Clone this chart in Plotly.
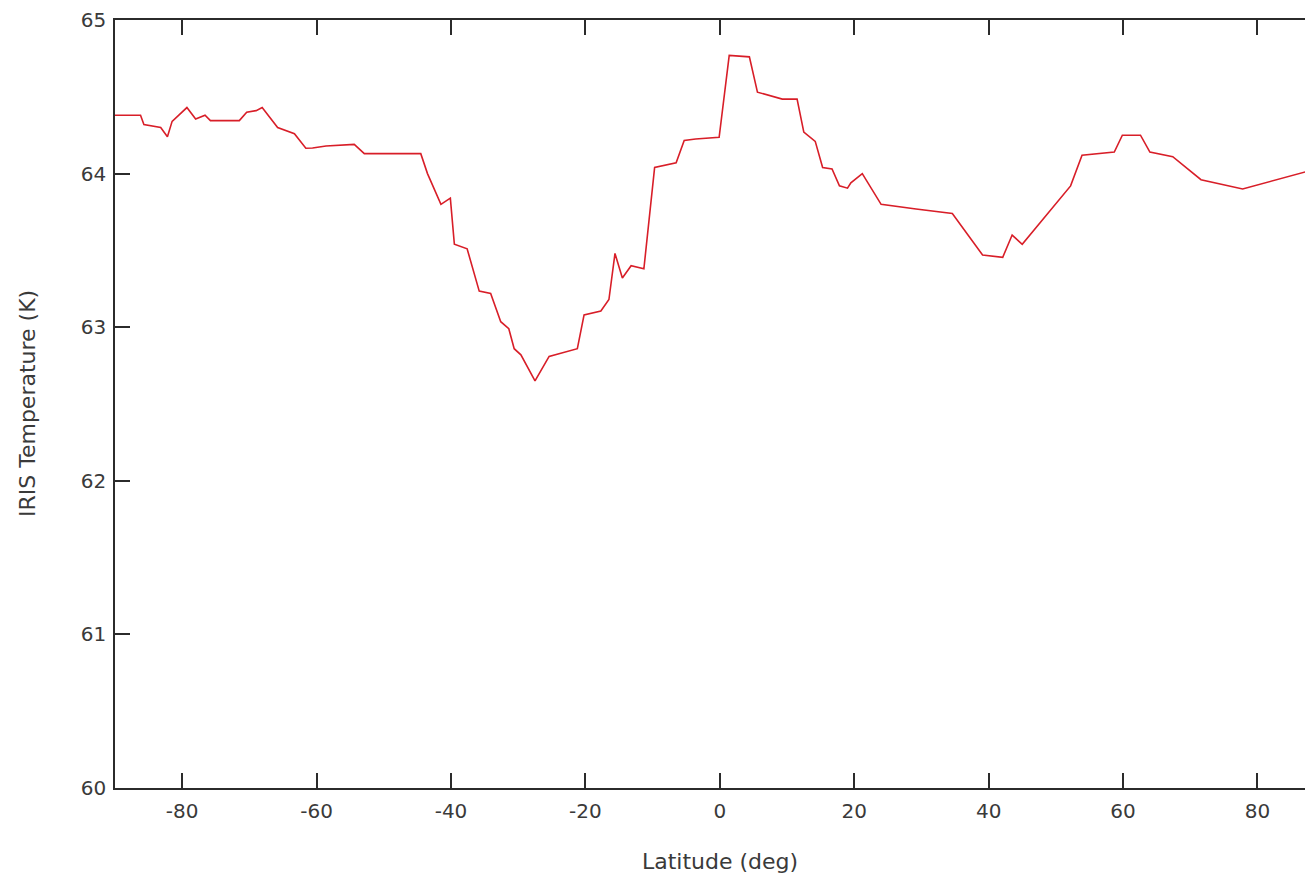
import plotly.graph_objects as go

latitude = [-90, -86.2, -85.7, -83.2, -82.2, -81.5, -79.3, -78.0, -76.6, -75.8,
            -71.5, -70.4, -69.0, -68.1, -65.8, -63.3, -61.6, -60.6, -58.6, -54.4,
            -52.9, -44.5, -43.5, -41.5, -40.1, -39.5, -37.6, -35.8, -34.1, -32.6,
            -31.4, -30.6, -29.6, -27.5, -25.4, -21.2, -20.2, -17.7, -16.5, -15.6,
            -14.5, -13.2, -11.3, -9.7, -6.5, -5.3, -3.6, -0.1, 1.4, 4.4,
            5.6, 9.3, 11.5, 12.5, 14.2, 15.3, 16.7, 17.8, 19.0, 19.5,
            21.2, 24.0, 29.2, 34.6, 39.1, 42.1, 43.5, 45.0, 52.2, 53.9,
            58.7, 59.9, 62.6, 64.0, 67.4, 71.6, 77.8, 87.9, 90.0]
temperature = [64.38, 64.38, 64.32, 64.30, 64.24, 64.34, 64.43, 64.355, 64.38, 64.345,
               64.345, 64.40, 64.41, 64.43, 64.30, 64.26, 64.165, 64.167, 64.18, 64.19,
               64.13, 64.13, 64.00, 63.80, 63.84, 63.54, 63.51, 63.235, 63.22, 63.036,
               62.99, 62.86, 62.82, 62.65, 62.81, 62.86, 63.08, 63.105, 63.18, 63.48,
               63.32, 63.40, 63.38, 64.04, 64.07, 64.215, 64.225, 64.236, 64.77, 64.76,
               64.53, 64.485, 64.485, 64.27, 64.21, 64.04, 64.03, 63.92, 63.905, 63.94,
               64.00, 63.80, 63.77, 63.74, 63.47, 63.455, 63.60, 63.54, 63.92, 64.12,
               64.14, 64.25, 64.25, 64.14, 64.11, 63.96, 63.90, 64.02, 64.03]

x_ticks = [-80, -60, -40, -20, 0, 20, 40, 60, 80]
x_tick_labels = ["-80", "-60", "-40", "-20", "0", "20", "40", "60", "80"]
y_ticks = [60, 61, 62, 63, 64, 65]
y_tick_labels = ["60", "61", "62", "63", "64", "65"]

axis_color = "#2b2b2b"
text_color = "#3a3a3a"
font_family = "DejaVu Sans"

fig = go.Figure()
fig.add_trace(go.Scatter(x=latitude, y=temperature, mode="lines",
                         line=dict(color="#d81e28", width=1.6),
                         showlegend=False, hoverinfo="skip"))

fig.update_layout(
    width=1305, height=869,
    margin=dict(l=107, r=0, t=9, b=89),
    paper_bgcolor="white", plot_bgcolor="white",
    font=dict(family=font_family, color=text_color, size=20),
    xaxis=dict(range=[-90, 88.27], tickmode="array", tickvals=x_ticks,
               ticktext=x_tick_labels, ticks="inside", ticklen=15, tickwidth=1.5,
               tickcolor=axis_color, showline=True, linecolor=axis_color, linewidth=1.5,
               mirror="ticks", showgrid=False, zeroline=False,
               tickfont=dict(family=font_family, size=20, color=text_color),
               ticklabelstandoff=4, ticklabeloverflow="allow"),
    yaxis=dict(range=[60, 65], tickmode="array", tickvals=y_ticks,
               ticktext=y_tick_labels, ticks="inside", ticklen=15, tickwidth=1.5,
               tickcolor=axis_color, showline=True,
               linecolor=axis_color, linewidth=1.5,
               mirror=False, showgrid=False, zeroline=False,
               tickfont=dict(family=font_family, size=20, color=text_color),
               ticklabelstandoff=3, ticklabeloverflow="allow"),
    yaxis2=dict(range=[60, 65], overlaying="y", side="right", tickmode="array",
                tickvals=y_ticks, ticks="inside", ticklen=3, tickwidth=1.5,
                tickcolor=axis_color, showticklabels=False, showline=False,
                showgrid=False, zeroline=False),
    annotations=[
        dict(text="Latitude (deg)", x=0, y=-0.096, xref="x", yref="paper",
             showarrow=False, xanchor="center", yanchor="middle",
             font=dict(family=font_family, size=22, color=text_color)),
        dict(text="IRIS Temperature (K)", x=(27 - 115) / 1198, y=0.5,
             xref="paper", yref="paper",
             showarrow=False, textangle=-90, xanchor="center", yanchor="middle",
             font=dict(family=font_family, size=22, color=text_color)),
    ],
)

fig.write_html("out.html")
